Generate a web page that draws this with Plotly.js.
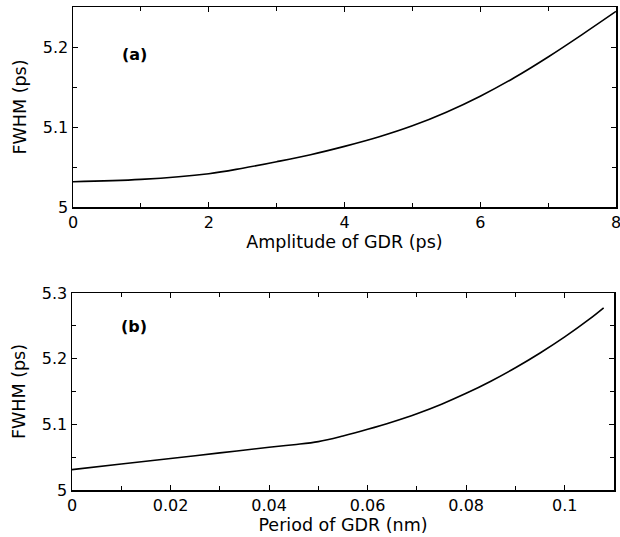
<!DOCTYPE html>
<html>
<head>
<meta charset="utf-8">
<script src="https://cdn.plot.ly/plotly-3.0.1.min.js"></script>
<style>html,body{margin:0;padding:0;background:#fff;}#chart{width:620px;height:537px;}</style>
</head>
<body>
<div id="chart"></div>
<script>
// Panel (a): FWHM vs amplitude of GDR
const amplitudePs = [0, 1, 2, 2.5, 3, 3.5, 4, 4.5, 5, 5.5, 6, 6.5, 7, 7.5, 8];
const fwhmA = [5.0316, 5.0345, 5.0416, 5.0485, 5.0566, 5.0654, 5.0758, 5.0875, 5.1015, 5.1185, 5.1385, 5.1615, 5.1875, 5.2155, 5.2445];

// Panel (b): FWHM vs period of GDR
const periodNm = [0, 0.01, 0.02, 0.03, 0.04, 0.045, 0.05, 0.055, 0.06, 0.065, 0.07, 0.075, 0.08, 0.085, 0.09, 0.095, 0.1, 0.105, 0.1079];
const fwhmB = [5.031, 5.0395, 5.048, 5.0565, 5.065, 5.069, 5.0737, 5.0823, 5.0924, 5.1036, 5.1162, 5.1307, 5.1472, 5.1657, 5.1862, 5.2087, 5.2332, 5.2602, 5.2775];

const panelLabels = ['(a)', '(b)'];
const xTitles = ['Amplitude of GDR (ps)', 'Period of GDR (nm)'];
const yTitle = 'FWHM (ps)';

const FONT = 'DejaVu Sans, Verdana, sans-serif';

const line = {color: '#000', width: 1.6, shape: 'spline', smoothing: 1};
const traces = [
  {x: amplitudePs, y: fwhmA, mode: 'lines', line: line, xaxis: 'x', yaxis: 'y', showlegend: false, hoverinfo: 'skip'},
  {x: periodNm, y: fwhmB, mode: 'lines', line: line, xaxis: 'x2', yaxis: 'y2', showlegend: false, hoverinfo: 'skip'}
];

function axisBase(extra) {
  return Object.assign({
    showline: true, linecolor: '#000', linewidth: 1.5, mirror: 'ticks',
    ticks: 'inside', ticklen: 5, tickwidth: 1, tickcolor: '#000',
    showgrid: false, zeroline: false, fixedrange: true,
    ticklabeloverflow: 'allow',
    tickfont: {family: FONT, size: 16, color: '#000'}
  }, extra);
}

const layout = {
  width: 620, height: 537,
  margin: {l: 0, r: 0, t: 0, b: 0},
  paper_bgcolor: '#fff', plot_bgcolor: '#fff',
  font: {family: FONT, color: '#000'},
  xaxis: axisBase({
    domain: [73/620, 616/620], anchor: 'y', range: [0, 8.0001], dtick: 2, tick0: 0,
    minor: {dtick: 1, ticks: 'inside', ticklen: 4, tickcolor: '#000'},
    title: {text: xTitles[0], font: {family: FONT, size: 17.5, color: '#000'}, standoff: 3}
  }),
  yaxis: axisBase({
    domain: [1 - 207/537, 1 - 7/537], anchor: 'x', range: [5, 5.25], dtick: 0.1, tick0: 5,
    minor: {dtick: 0.05, ticks: 'inside', ticklen: 4, tickcolor: '#000'},
    title: {text: yTitle, font: {family: FONT, size: 17.5, color: '#000'}, standoff: 11}
  }),
  xaxis2: axisBase({
    domain: [72/620, 614/620], anchor: 'y2', range: [0, 0.11], dtick: 0.02, tick0: 0,
    minor: {dtick: 0.01, ticks: 'inside', ticklen: 4, tickcolor: '#000'},
    title: {text: xTitles[1], font: {family: FONT, size: 17.5, color: '#000'}, standoff: 4}
  }),
  yaxis2: axisBase({
    domain: [1 - 490/537, 1 - 293/537], anchor: 'x2', range: [5, 5.3], dtick: 0.1, tick0: 5,
    minor: {dtick: 0.05, ticks: 'inside', ticklen: 4, tickcolor: '#000'},
    title: {text: yTitle, font: {family: FONT, size: 17.5, color: '#000'}, standoff: 11}
  }),
  annotations: [
    {text: '<b>' + panelLabels[0] + '</b>', xref: 'paper', yref: 'paper', x: 134/620, y: 1 - 55/537,
     xanchor: 'center', yanchor: 'middle', showarrow: false, font: {family: FONT, size: 16, color: '#000'}},
    {text: '<b>' + panelLabels[1] + '</b>', xref: 'paper', yref: 'paper', x: 134/620, y: 1 - 326/537,
     xanchor: 'center', yanchor: 'middle', showarrow: false, font: {family: FONT, size: 16, color: '#000'}}
  ]
};

Plotly.newPlot('chart', traces, layout, {displayModeBar: false, staticPlot: true});
</script>
</body>
</html>
